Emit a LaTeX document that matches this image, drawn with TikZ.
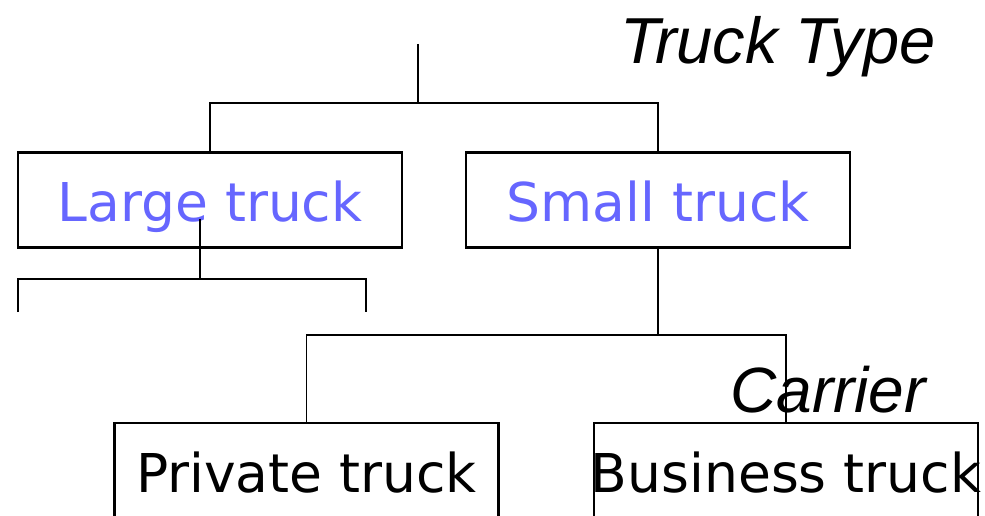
\documentclass[tikz,border=0pt]{standalone}
\usepackage{fontspec}
\newfontfamily\boxfont{DejaVu Sans}
\newfontfamily\labfont{Liberation Sans}
\definecolor{lblue}{HTML}{6666FF}
\newcommand{\ovtext}[1]{\makebox[0pt][c]{#1}}
\begin{document}
\begin{tikzpicture}[x=1pt,y=-1pt,
  catbox/.style={draw=black,line width=2.2pt,rectangle,inner sep=0pt,
    minimum width=384pt,minimum height=95pt,text height=42pt,text depth=0pt,
    font=\boxfont\fontsize{53.5}{60}\selectfont},
  conn/.style={line width=1.6pt},
  lab/.style={anchor=base west,inner sep=0pt,font=\labfont\itshape\fontsize{64}{72}\selectfont}]
\useasboundingbox (0,0) rectangle (985,516);
\clip (0,0) rectangle (985,516);
\node[catbox,text=lblue] (lt) at (210,200) {\ovtext{Large truck}};
\node[catbox,text=lblue] (st) at (658,200) {\ovtext{Small truck}};
\node[catbox,minimum height=96pt] (pt) at (306.5,471) {\ovtext{Private truck}};
\node[catbox,minimum height=96pt] (bt) at (786,471) {\ovtext{Business truck}};
\node[lab,font=\labfont\itshape\fontsize{65}{72}\selectfont] (tt) at (620,64) {Truck Type};
\node[lab] (ca) at (730,412) {Carrier};
\coordinate (top) at (418,44);
\coordinate (bar1) at (418,103);
\draw[conn] (top) -- (bar1);
\draw[conn] (lt.north) |- (bar1) -| (st.north);
\coordinate (a1) at (200,219);
\coordinate (a2) at (200,279);
\coordinate (l1) at (18,312);
\coordinate (r1) at (366,312);
\draw[conn] (a1) -- (a2);
\draw[conn] (l1) |- (a2) -| (r1);
\coordinate (bar2) at (658,335);
\draw[conn] (st.south) -- (bar2);
\draw[conn] (pt.north) |- (bar2) -| (bt.north);
\end{tikzpicture}
\end{document}
